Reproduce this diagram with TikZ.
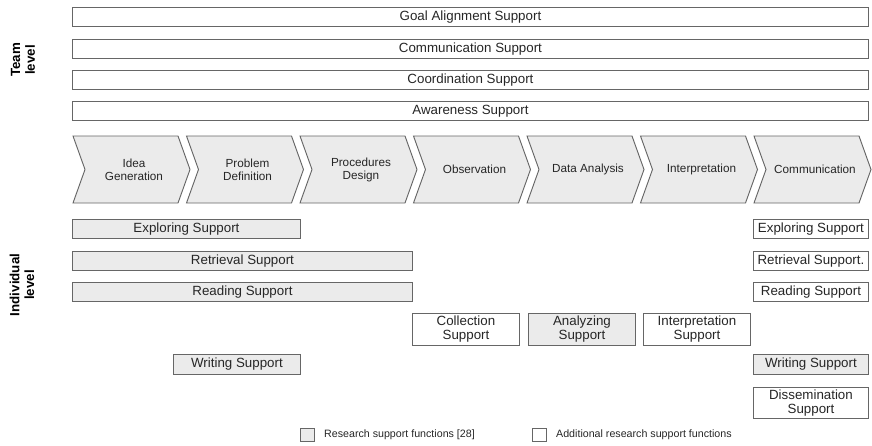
\documentclass[tikz,border=0pt]{standalone}
\usepackage{fontspec}
\setmainfont{Liberation Sans}
\usetikzlibrary{positioning}
\def\px{0.75pt}
\tikzset{rahmen/.style={draw=black!60, line width=0.7pt},
	balken/.style={rahmen, fill=white, anchor=north west, inner sep=0, text=black!85,
		minimum height=19*\px, align=center, font=\fontsize{10}{10.5}\selectfont},
	funktion/.style={balken, fill=black!8},
	zusatz/.style={balken, fill=white},
	phase/.style={rahmen, fill=black!8, line join=miter},
	phasentext/.style={align=center, inner sep=0, text=black!85, font=\fontsize{8.8}{9.75}\selectfont},
	ebene/.style={rotate=90, align=center, inner sep=0, font=\bfseries\fontsize{10}{11}\selectfont},
	legende/.style={inner sep=0, text=black!85, font=\fontsize{8}{9}\selectfont} }

\begin{document}
\begin{tikzpicture}[x=0.75pt, y=-0.75pt]
  \useasboundingbox (0,0) rectangle (872,446);

  % team level
  \node (team) [ebene] at (23,60) {Team\\level};
  \node (ziel) [balken, minimum width=796*\px] at (72,7) {Goal Alignment Support};
  \node (komm) [balken, minimum width=796*\px] at (72,39) {Communication Support};
  \node (koord) [balken, minimum width=796*\px] at (72,70) {Coordination Support};
  \node (wahrn) [balken, minimum width=796*\px] at (72,101) {Awareness Support};

  % research phases
  \foreach \name/\beschr [count=\i from 0] in {idee/Idea\\Generation, problem/Problem\\Definition,
  	design/Procedures\\Design, beob/Observation, analyse/Data Analysis,
  	interp/Interpretation, komm2/Communication}
  {
  	\draw[phase] (73+113.5*\i,136) -- ++(105,0) -- ++(12,33.5) -- ++(-12,33.5)
  		-- ++(-105,0) -- ++(12,-33.5) -- cycle;
  	\node (\name) [phasentext] at (73+113.5*\i+61,169.5) {\beschr};
  }

  % individual level
  \node (indiv) [ebene] at (22,285) {Individual\\level};
  \node (explL) [funktion, minimum width=228*\px] at (72,219) {Exploring Support};
  \node (explR) [zusatz, minimum width=115*\px] at (753,219) {Exploring Support};
  \node (retrL) [funktion, minimum width=340*\px] at (72,251) {Retrieval Support};
  \node (retrR) [zusatz, minimum width=115*\px] at (753,251) {Retrieval Support.};
  \node (leseL) [funktion, minimum width=340*\px] at (72,282) {Reading Support};
  \node (leseR) [zusatz, minimum width=115*\px] at (753,282) {Reading Support};
  \node (samm) [zusatz, minimum width=107*\px, minimum height=32*\px] at (412,313) {Collection\\Support};
  \node (anal) [funktion, minimum width=107*\px, minimum height=32*\px] at (528,313) {Analyzing\\Support};
  \node (deut) [zusatz, minimum width=107*\px, minimum height=32*\px] at (643,313) {Interpretation\\Support};
  \node (schrL) [funktion, minimum width=127*\px, minimum height=20*\px] at (173,354) {Writing Support};
  \node (schrR) [funktion, minimum width=115*\px, minimum height=20*\px] at (753,354) {Writing Support};
  \node (verbr) [zusatz, minimum width=115*\px, minimum height=31*\px] at (753,387) {Dissemination\\Support};

  % legend
  \node (leg1) [funktion, minimum width=14*\px, minimum height=13*\px] at (300,428) {};
  \node (leg1t) [legende, right=6.75pt of leg1] {Research support functions [28]};
  \node (leg2) [zusatz, minimum width=14*\px, minimum height=13*\px] at (532,428) {};
  \node (leg2t) [legende, right=6.75pt of leg2] {Additional research support functions};
\end{tikzpicture}
\end{document}
